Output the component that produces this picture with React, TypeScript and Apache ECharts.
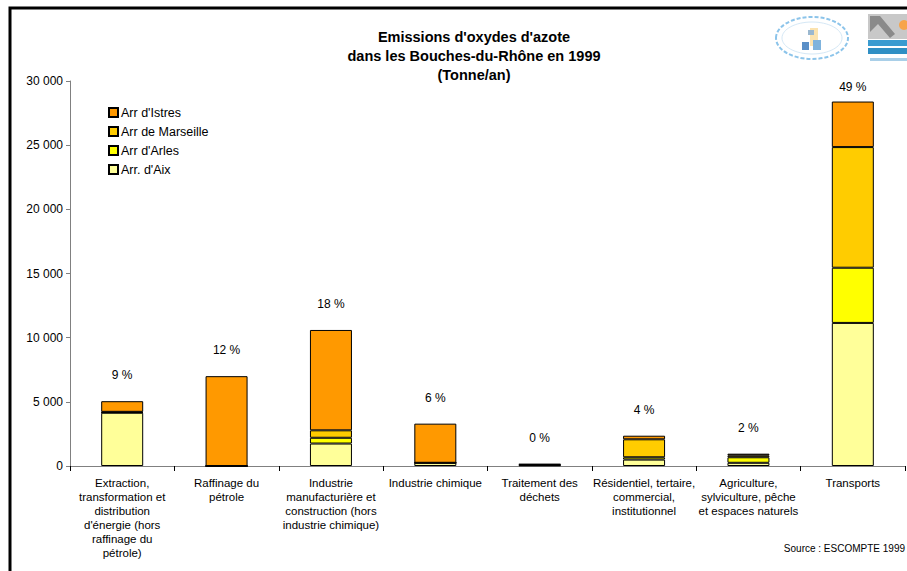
import React, { useEffect, useRef } from "react";
import * as echarts from "echarts";

const categories = [
  "Extraction,\ntransformation et\ndistribution\nd'énergie (hors\nraffinage du\npétrole)",
  "Raffinage du\npétrole",
  "Industrie\nmanufacturière et\nconstruction (hors\nindustrie chimique)",
  "Industrie chimique",
  "Traitement des\ndéchets",
  "Résidentiel, tertaire,\ncommercial,\ninstitutionnel",
  "Agriculture,\nsylviculture, pêche\net espaces naturels",
  "Transports",
];
const aix = [4150, 0, 1750, 250, 50, 500, 250, 11150];
const arles = [30, 0, 450, 0, 20, 180, 430, 4300];
const marseille = [40, 0, 580, 0, 50, 1400, 150, 9400];
const istres = [830, 7000, 7820, 3050, 30, 280, 130, 3550];
const seriesNames = ["Arr. d'Aix", "Arr d'Arles", "Arr de Marseille", "Arr d'Istres"];
const yTicks = [0, 5000, 10000, 15000, 20000, 25000, 30000];
const titleText = "Emissions d'oxydes d'azote\ndans les Bouches-du-Rhône en 1999\n(Tonne/an)";
const sourceText = "Source : ESCOMPTE 1999";

const FONT = "'Liberation Sans', Arial, sans-serif";

export default function App() {
  const ref = useRef<HTMLDivElement>(null);
  useEffect(() => {
    if (!ref.current) return;
    const chart = echarts.init(ref.current, null, { renderer: "svg" });
    const totals = categories.map((_, i) => aix[i] + arles[i] + marseille[i] + istres[i]);
    const grand = totals.reduce((a, b) => a + b, 0);
    const pct = totals.map((t) => Math.round((t / grand) * 100) + " %");
    const colors = ["#FFFF99", "#FFFF00", "#FFCC00", "#FF9900"];
    const values = [aix, arles, marseille, istres];
    const maxIdx = totals.indexOf(Math.max(...totals));
    const series: any[] = values.map((vals, si) => ({
      name: seriesNames[si],
      type: "bar",
      stack: "total",
      barWidth: 42,
      itemStyle: { color: colors[si], borderColor: "#000", borderWidth: 1 },
      data:
        si === 3
          ? vals.map((v, i) => ({
              value: v,
              label: {
                show: true,
                position: "top",
                distance: i === maxIdx ? 9 : 20,
                formatter: () => pct[i],
                color: "#000",
                fontFamily: FONT,
                fontSize: 12,
              },
            }))
          : vals,
    }));
    chart.setOption({
      animation: false,
      backgroundColor: "#fff",
      title: {
        text: titleText,
        left: 474,
        top: 27,
        padding: 0,
        textAlign: "center",
        textStyle: { fontFamily: FONT, fontSize: 14.5, fontWeight: "bold", color: "#000", lineHeight: 19 },
      },
      legend: {
        orient: "vertical",
        left: 108,
        top: 106,
        padding: 0,
        itemWidth: 9,
        itemHeight: 9,
        itemGap: 6,
        data: ["Arr d'Istres", "Arr de Marseille", "Arr d'Arles", "Arr. d'Aix"],
        textStyle: { fontFamily: FONT, fontSize: 12.5, color: "#000", padding: [0, 0, 0, -2] },
        icon: "rect",
      },
      grid: { left: 70, right: 2, top: 81, bottom: 105, containLabel: false },
      xAxis: {
        type: "category",
        data: categories,
        axisLine: { lineStyle: { color: "#808080", width: 1 } },
        axisTick: { show: true, length: 5, lineStyle: { color: "#000" } },
        axisLabel: {
          interval: 0,
          margin: 10,
          fontFamily: FONT,
          fontSize: 11.5,
          lineHeight: 14,
          color: "#000",
        },
      },
      yAxis: {
        type: "value",
        min: 0,
        max: 30000,
        interval: 5000,
        splitLine: { show: false },
        axisLine: { show: true, lineStyle: { color: "#808080", width: 1 } },
        axisTick: { show: true, length: 4, lineStyle: { color: "#808080" } },
        axisLabel: {
          fontFamily: FONT,
          fontSize: 12,
          color: "#000",
          margin: 7,
          formatter: (v: number) => {
            const i = yTicks.indexOf(v);
            const n = i >= 0 ? yTicks[i] : v;
            return String(n).replace(/\B(?=(\d{3})+(?!\d))/g, " ");
          },
        },
      },
      graphic: [
        {
          type: "rect",
          shape: { x: 10, y: 8, width: 1200, height: 1200 },
          style: { fill: "none", stroke: "#000", lineWidth: 3 },
          silent: true,
        },
        {
          type: "text",
          right: 2,
          top: 543,
          style: { text: sourceText, fontFamily: FONT, fontSize: 10, fill: "#000" },
        },
        {
          type: "group",
          children: [
            {
              type: "ellipse",
              shape: { cx: 812, cy: 38, rx: 36, ry: 21 },
              style: { fill: "none", stroke: "#8cc4ea", lineWidth: 2, lineDash: [4, 2] },
            },
            {
              type: "ellipse",
              shape: { cx: 812, cy: 38, rx: 30, ry: 16 },
              style: { fill: "none", stroke: "#d5e8f6", lineWidth: 1 },
            },
            { type: "rect", shape: { x: 810, y: 28, width: 8, height: 18 }, style: { fill: "#fbe3b0" } },
            { type: "rect", shape: { x: 802, y: 42, width: 7, height: 8 }, style: { fill: "#5b8fc7" } },
            { type: "rect", shape: { x: 813, y: 40, width: 8, height: 10 }, style: { fill: "#7fb3dd" } },
            { type: "rect", shape: { x: 808, y: 30, width: 6, height: 5 }, style: { fill: "#9bb8d0" } },
            { type: "rect", shape: { x: 868, y: 14, width: 39, height: 25 }, style: { fill: "#c8c8c8" } },
            {
              type: "polygon",
              shape: { points: [[870, 16], [880, 16], [895, 34], [890, 38], [878, 24], [870, 32]] },
              style: { fill: "#8a8a8a" },
            },
            { type: "circle", shape: { cx: 904, cy: 25, r: 5 }, style: { fill: "#f7a44a" } },
            { type: "rect", shape: { x: 868, y: 40, width: 39, height: 6 }, style: { fill: "#3a9bd0" } },
            { type: "rect", shape: { x: 868, y: 48, width: 39, height: 6 }, style: { fill: "#2f8fc4" } },
            { type: "rect", shape: { x: 870, y: 58, width: 37, height: 3 }, style: { fill: "#a9cfe8" } },
          ],
        },
      ],
      series,
    });
    return () => chart.dispose();
  }, []);
  return <div ref={ref} style={{ position: "fixed", left: 0, top: 0, width: 907, height: 571 }} />;
}
